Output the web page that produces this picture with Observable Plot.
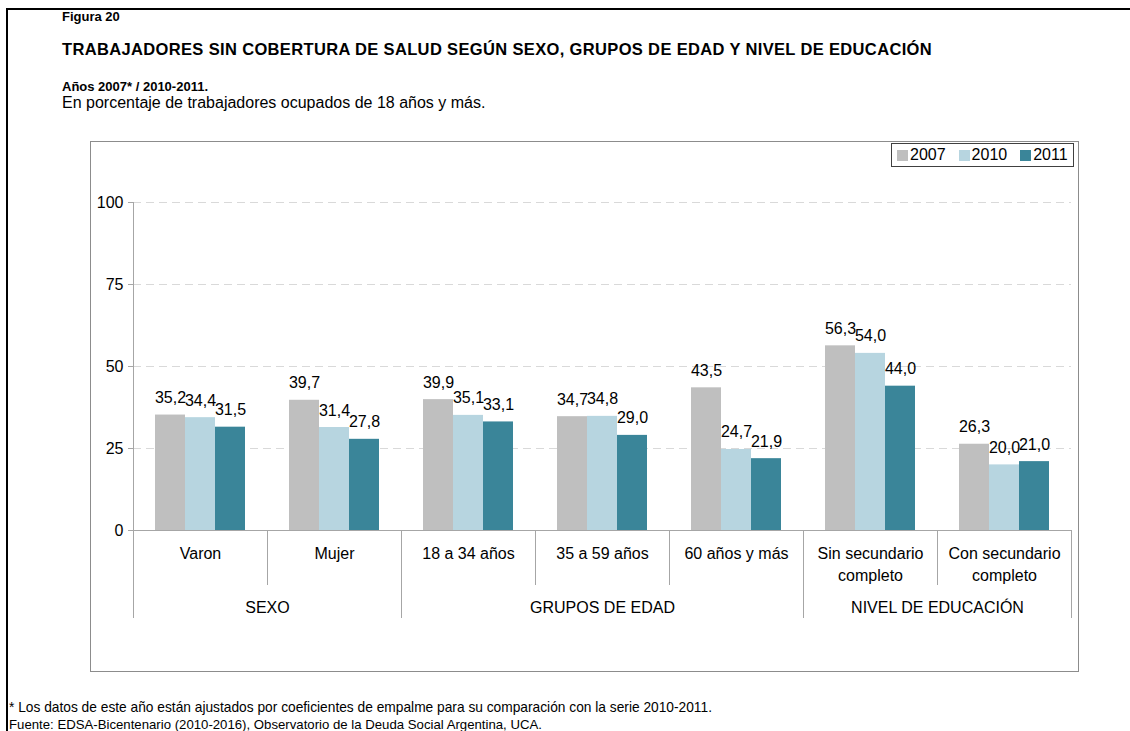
<!DOCTYPE html>
<html>
<head>
<meta charset="utf-8">
<script src="https://cdn.jsdelivr.net/npm/d3@7"></script>
<script src="https://cdn.jsdelivr.net/npm/@observablehq/plot@0.6"></script>
<style>
  html, body { margin: 0; padding: 0; background: #fff; }
  body { font-family: "Liberation Sans", Arial, sans-serif; color: #000; }
  #page { position: relative; width: 1130px; height: 731px; overflow: hidden; }
  #frame { position: absolute; left: 6px; top: 8px; width: 1130px; height: 740px;
           border-left: 2px solid #000; border-top: 2px solid #000; }
  .t { position: absolute; white-space: nowrap; }
  #box { position: absolute; left: 90px; top: 141px; width: 989px; height: 531px;
         border: 1px solid #8c8c8c; box-sizing: border-box; }
  #chart { position: absolute; left: 90px; top: 141px; }
  #legend { position: absolute; left: 891px; top: 143px; width: 183px; height: 24px;
            border: 1px solid #404040; box-sizing: border-box; background: #fff;
            display: flex; align-items: center; justify-content: flex-start; gap: 13px;
            padding-left: 5px; font-size: 16px; }
  #legend span.item { display: inline-flex; align-items: center; gap: 2px; }
  #legend i { display: inline-block; width: 11px; height: 11px; }
</style>
</head>
<body>
<div id="page">
  <div id="frame"></div>
  <div class="t" style="left:62px;top:9px;font-size:13px;font-weight:bold;">Figura 20</div>
  <div class="t" style="left:62px;top:40px;font-size:16.5px;font-weight:bold;letter-spacing:0.35px;">TRABAJADORES SIN COBERTURA DE SALUD SEGÚN SEXO, GRUPOS DE EDAD Y NIVEL DE EDUCACIÓN</div>
  <div class="t" style="left:62px;top:79px;font-size:13px;font-weight:bold;">Años 2007* / 2010-2011.</div>
  <div class="t" style="left:62px;top:94px;font-size:16px;">En porcentaje de trabajadores ocupados de 18 años y más.</div>
  <div id="box"></div>
  <div id="chart"></div>
  <div id="legend"></div>
  <div class="t" style="left:9px;top:700px;font-size:13.75px;">* Los datos de este año están ajustados por coeficientes de empalme para su comparación con la serie 2010-2011.</div>
  <div class="t" style="left:9px;top:717px;font-size:13.2px;">Fuente: EDSA-Bicentenario (2010-2016), Observatorio de la Deuda Social Argentina, UCA.</div>
</div>
<script>
// ---- Data ----
const categories = ["Varon", "Mujer", "18 a 34 años", "35 a 59 años", "60 años y más", "Sin secundario\ncompleto", "Con secundario\ncompleto"];
const years = ["2007", "2010", "2011"];
const values2007 = [35.2, 39.7, 39.9, 34.7, 43.5, 56.3, 26.3];
const values2010 = [34.4, 31.4, 35.1, 34.8, 24.7, 54.0, 20.0];
const values2011 = [31.5, 27.8, 33.1, 29.0, 21.9, 44.0, 21.0];
const groupNames = ["SEXO", "GRUPOS DE EDAD", "NIVEL DE EDUCACIÓN"];
const groupSizes = [2, 3, 2];
const yTicks = [0, 25, 50, 75, 100];
const colors = ["#bfbfbf", "#b7d5e0", "#3a8599"];

// ---- Layout ----
const W = 990, H = 532;
const mL = 43, mR = 9, mT = 61, mB = 143;
const step = (W - mL - mR) / categories.length;
const barW = 30;
const pxPerUnit = (H - mT - mB) / 100;
const innerDepth = -55 / pxPerUnit;   // category separators below axis
const outerDepth = -88 / pxPerUnit;   // group separators below axis

const series = [values2007, values2010, values2011];
const rows = [];
series.forEach((vals, s) => vals.forEach((v, i) => rows.push({cat: categories[i], year: years[s], value: v, s})));

const fmt = v => v.toFixed(1).replace(".", ",");

// group info
const groups = [];
let idx = 0;
groupNames.forEach((g, k) => {
  const n = groupSizes[k];
  const cats = categories.slice(idx, idx + n);
  const mid = Math.floor((n - 1) / 2);
  groups.push({name: g, anchor: cats[mid], dx: ((n - 1) / 2 - mid) * step, first: cats[0]});
  idx += n;
});

const marks = [];
// gridlines
marks.push(Plot.ruleY(yTicks.filter(d => d > 0), {stroke: "#d9d9d9", strokeWidth: 1, strokeDasharray: "8,5"}));
// bars + labels per year
years.forEach((y, s) => {
  const data = rows.filter(r => r.s === s);
  const dx = (s - 1) * barW;
  const inset = (step - barW) / 2;
  marks.push(Plot.barY(data, {x: "cat", y: "value", fill: colors[s], insetLeft: inset + dx, insetRight: inset - dx}));
  marks.push(Plot.text(data, {x: "cat", y: "value", text: d => fmt(d.value), dx, dy: -12, lineAnchor: "bottom", fontSize: 16, fill: "#000"}));
});
// bottom axis line
marks.push(Plot.ruleY([0], {stroke: "#a6a6a6", strokeWidth: 1}));
// y axis line
marks.push(Plot.ruleX([categories[0]], {dx: -step / 2, y1: 0, y2: 100, stroke: "#a6a6a6"}));
// category separators
marks.push(Plot.ruleX(categories, {dx: -step / 2, y1: 0, y2: innerDepth, stroke: "#a6a6a6"}));
// group separators
marks.push(Plot.ruleX(groups.map(g => g.first), {dx: -step / 2, y1: 0, y2: outerDepth, stroke: "#a6a6a6"}));
marks.push(Plot.ruleX([categories[categories.length - 1]], {dx: step / 2, y1: 0, y2: outerDepth, stroke: "#a6a6a6"}));
// category labels
marks.push(Plot.text(categories, {x: d => d, y: 0, text: d => d, dy: 13, lineAnchor: "top", lineHeight: 1.375, fontSize: 16, fill: "#000"}));
// group labels
groups.forEach(g => {
  marks.push(Plot.text([g], {x: () => g.anchor, y: 0, text: "name", dx: g.dx, dy: 71, lineAnchor: "top", fontSize: 16, fill: "#000"}));
});
// y axis ticks
marks.push(Plot.axisY({ticks: yTicks, tickSize: 5, tickPadding: 5, stroke: "#a6a6a6", fontSize: 16, fill: "#000", label: null, tickFormat: d => d}));

const chart = Plot.plot({
  width: W, height: H,
  marginLeft: mL, marginRight: mR, marginTop: mT, marginBottom: mB,
  x: {domain: categories, padding: 0, axis: null},
  y: {domain: [0, 100], axis: null},
  style: {fontFamily: "'Liberation Sans', Arial, sans-serif", fontSize: "16px", color: "#000", background: "transparent", overflow: "visible"},
  marks
});
document.getElementById("chart").appendChild(chart);

// legend
const leg = document.getElementById("legend");
years.forEach((y, s) => {
  const it = document.createElement("span");
  it.className = "item";
  it.innerHTML = `<i style="background:${colors[s]}"></i>${y}`;
  leg.appendChild(it);
});
</script>
</body>
</html>
